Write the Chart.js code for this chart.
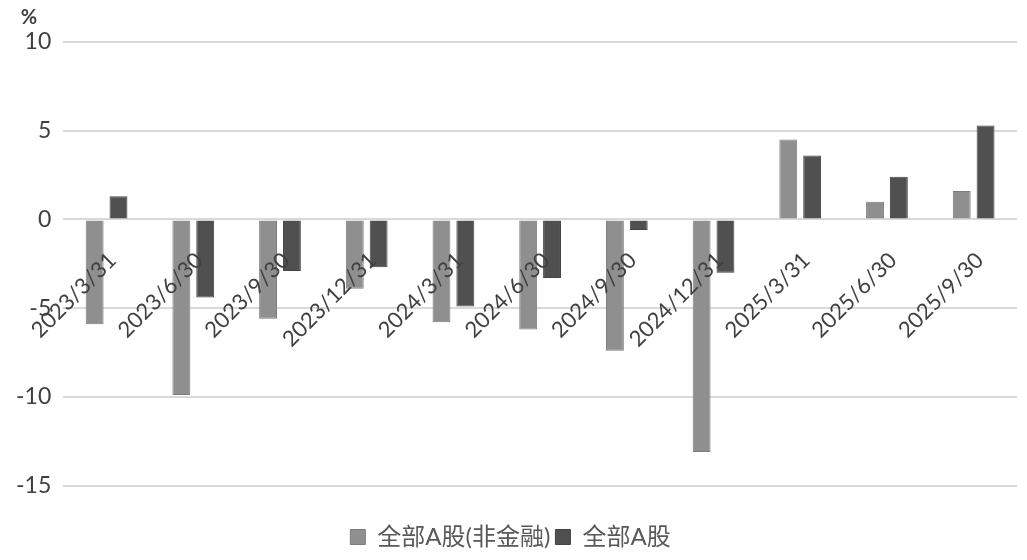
<!DOCTYPE html>
<html>
<head>
<meta charset="utf-8">
<script src="https://cdn.jsdelivr.net/npm/chart.js@4"></script>
<style>
  html, body { margin: 0; padding: 0; background: #fff; }
  #wrap { width: 1027px; height: 560px; }
</style>
</head>
<body>
<div id="wrap"><canvas id="chartRoe"></canvas></div>
<script>
const fechas = ['2023/3/31', '2023/6/30', '2023/9/30', '2023/12/31', '2024/3/31', '2024/6/30',
    '2024/9/30', '2024/12/31', '2025/3/31', '2025/6/30', '2025/9/30'];
const noFinanciero = [-5.9, -9.9, -5.6, -3.9, -5.8, -6.2, -7.4, -13.1, 4.5, 1.0, 1.6];
const todasA = [1.3, -4.4, -2.9, -2.7, -4.9, -3.3, -0.6, -3.0, 3.6, 2.4, 5.3];
const nombres = ['全部A股(非金融)', '全部A股'];

const fuente = "Lato, 'Noto Sans CJK SC', sans-serif";

// etiqueta "%" arriba del eje
const unidad = {
    id: 'unidad',
    afterDraw(chart) {
        const c = chart.ctx;
        c.save();
        c.font = "bold 20px " + fuente;
        c.fillStyle = '#404040';
        c.textAlign = 'center';
        c.textBaseline = 'middle';
        c.fillText('%', 29, 18);
        c.restore();
    }
};

const ctx = document.getElementById('chartRoe').getContext('2d');

const chartRoe = new Chart(ctx, {
    type: 'bar',
    data: {
        labels: fechas,
        datasets: [{
            label: nombres[0],
            data: noFinanciero,
            backgroundColor: '#8f8f8f',
            borderColor: '#7c7c7c',
            borderWidth: 1
        }, {
            label: nombres[1],
            data: todasA,
            backgroundColor: '#505050',
            borderColor: '#444444',
            borderWidth: 1
        }]
    },
    options: {
        responsive: true,
        maintainAspectRatio: false,
        animation: false,
        categoryPercentage: 0.55,
        barPercentage: 0.75,
        layout: { padding: { top: 42, right: 10, left: 4, bottom: 1 } },
        scales: {
            x: {
                position: { y: 0 },
                grid: { display: false, drawTicks: false },
                border: { display: false },
                afterFit(scale) {
                    scale.height = 0;
                    scale.paddingLeft = 0;
                    scale.paddingRight = 0;
                },
                ticks: {
                    z: 1,
                    autoSkip: false,
                    maxRotation: 45,
                    minRotation: 45,
                    padding: 28,
                    labelOffset: 6,
                    color: '#404040',
                    font: { family: fuente, size: 22 }
                }
            },
            y: {
                min: -15,
                max: 10,
                grid: { color: '#d9d9d9', lineWidth: 2, drawTicks: false },
                border: { display: false },
                ticks: {
                    stepSize: 5,
                    padding: 12,
                    color: '#404040',
                    font: { family: fuente, size: 23 }
                }
            }
        },
        plugins: {
            legend: {
                position: 'bottom',
                title: { display: true, text: ' ', padding: 10, font: { size: 12 } },
                labels: {
                    boxWidth: 15,
                    boxHeight: 15,
                    padding: 5,
                    color: '#595959',
                    font: { family: fuente, size: 24 }
                }
            },
            tooltip: { enabled: false }
        }
    },
    plugins: [unidad]
});
</script>
</body>
</html>
